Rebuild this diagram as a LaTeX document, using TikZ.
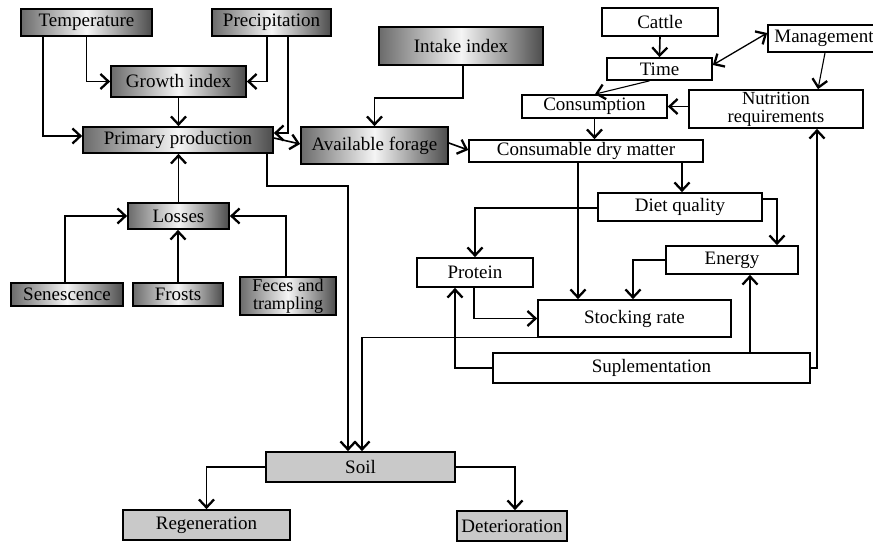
\documentclass[tikz,border=0pt]{standalone}
\usepackage{fontspec}
\setmainfont{Liberation Serif}
\usetikzlibrary{arrows.meta}
\newcommand\fsz{\fontsize{19}{19}\selectfont}
\begin{document}
\begin{tikzpicture}[x=1pt,y=-1pt,
  base/.style={draw=black, line width=1.7pt, inner sep=0pt, align=center, font=\fsz},
  grad/.style={base, left color=black!58, right color=black!70, middle color=black!4},
  plain/.style={base, fill=white},
  soilbox/.style={base, fill=black!21},
  tip/.tip={Straight Barb[length=8pt,width=15pt,line width=2.3pt]},
  conn/.style={line width=1.6pt, -tip},
  thinconn/.style={conn, line width=1.1pt},
  dconn/.style={line width=1.3pt, tip-tip}
]
\useasboundingbox (0,0) rectangle (873,553);
\fill[white] (0,0) rectangle (873,553);

% shaded (plant) boxes
\node[grad, minimum width=131pt, minimum height=27pt] (temp) at (86.5,22.5) {Temperature};
\node[grad, minimum width=119pt, minimum height=27pt] (prec) at (271.5,22.5) {Precipitation};
\node[grad, minimum width=135pt, minimum height=31pt] (gi) at (178.5,81.5) {Growth index};
\node[grad, minimum width=190pt, minimum height=26pt] (pp) at (178,140) {Primary production};
\node[grad, minimum width=147pt, minimum height=37pt] (af) at (374.5,145.5) {Available forage};
\node[grad, minimum width=164pt, minimum height=38pt] (intake) at (461,46) {Intake index};
\node[grad, minimum width=101pt, minimum height=26pt] (loss) at (178.5,216) {Losses};
\node[grad, minimum width=112pt, minimum height=23pt] (sen) at (67,294.5) {Senescence};
\node[grad, minimum width=90pt, minimum height=23pt] (frost) at (178,294.5) {Frosts};
\node[grad, minimum width=96pt, minimum height=38pt, font=\fontsize{18}{17.5}\selectfont] (fec) at (288,296) {Feces and\\trampling};

% animal boxes
\node[plain, minimum width=234pt, minimum height=22pt] (cdm) at (586,151) {Consumable dry matter};
\node[plain, minimum width=116pt, minimum height=28pt] (cattle) at (660,22) {Cattle};
\node[plain, minimum width=105pt, minimum height=22pt] (time) at (659.5,69) {Time};
\node[plain, minimum width=112pt, minimum height=27pt] (mgmt) at (824,38.5) {Management};
\node[plain, minimum width=145pt, minimum height=23pt] (cons) at (594.5,106.5) {Consumption};
\node[plain, minimum width=174pt, minimum height=38pt, font=\fontsize{18.5}{18}\selectfont] (nut) at (776,109) {Nutrition\\requirements};
\node[plain, minimum width=164pt, minimum height=28pt] (dq) at (680,207) {Diet quality};
\node[plain, minimum width=132pt, minimum height=28pt] (en) at (732,260) {Energy};
\node[plain, minimum width=116pt, minimum height=29pt] (prot) at (475,272.5) {Protein};
\node[plain, minimum width=193pt, minimum height=37pt] (sr) at (634.5,318.5) {Stocking rate};
\node[plain, minimum width=317pt, minimum height=30pt] (sup) at (651.5,368) {Suplementation};

% soil boxes
\node[soilbox, minimum width=189pt, minimum height=30pt] (soil) at (360.5,467) {Soil};
\node[soilbox, minimum width=167pt, minimum height=30pt] (regen) at (206.5,525) {Regeneration};
\node[soilbox, minimum width=110pt, minimum height=30pt] (det) at (512,526) {Deterioration};

% connectors: plant side
\draw[conn] (temp.south) |- (gi.west);
\draw[conn] ([xshift=-43.5pt]temp.south) |- ([yshift=4pt]pp.west);
\draw[conn] ([xshift=-4.5pt]prec.south) |- (gi.east);
\draw[thinconn] ([xshift=16.5pt]prec.south) |- ([yshift=7pt]pp.east);
\draw[conn] ([yshift=2pt]pp.east) -- ([yshift=1.5pt]af.west);
\draw[conn] (gi.south) -- (gi.south |- pp.north);
\draw[conn] (loss.north) -- (loss.north |- pp.south);
\draw[conn] ([xshift=-2pt]sen.north) |- (loss.west);
\draw[conn] (frost.north) -- (frost.north |- loss.south);
\draw[conn] ([xshift=-2pt]fec.north) |- (loss.east);
\draw[conn] ([xshift=2pt]intake.south) -- ++(0,32) -| (af.north);
\draw[conn] ([yshift=2.5pt]af.east) -- ([yshift=1pt]cdm.west);
\draw[conn] ([xshift=89pt]pp.south) -- ++(0,32) -| ([xshift=-12.5pt]soil.north);

% connectors: animal side
\draw[conn] (cattle.south) -- (time.north);
\draw[dconn] ([yshift=4pt]time.east) -- ([yshift=5.5pt]mgmt.west);
\draw[thinconn] ([xshift=-10pt]time.south) -- ([xshift=0.5pt]cons.north);
\draw[thinconn] ([xshift=1pt]mgmt.south) -- ([xshift=42pt]nut.north);
\draw[conn] (nut.west |- cons.east) -- (cons.east);
\draw[conn] (cons.south) -- (cons.south |- cdm.north);
\draw[conn] (sup.east) -| ([xshift=41pt]nut.south);
\draw[conn] ([xshift=96pt]cdm.south) -- ([xshift=2pt]dq.north);
\draw[conn] ([xshift=-8pt]cdm.south) -- ([xshift=-56.5pt]sr.north);
\draw[conn] ([yshift=-1pt]dq.west) -| (prot.north);
\draw[conn] ([yshift=8pt]dq.east) -| ([xshift=45pt]en.north);
\draw[conn] (en.west) -| ([xshift=-1.5pt]sr.north);
\draw[thinconn] ([xshift=-1pt]prot.south) |- (sr.west);
\draw[thinconn] (sup.west) -| ([xshift=-20pt]prot.south);
\draw[conn] ([xshift=98.5pt]sup.north) -- ([xshift=18pt]en.south);
\draw[thinconn] (sr.south west) -| ([xshift=1.5pt]soil.north);

% connectors: soil
\draw[conn] (soil.west) -| (regen.north);
\draw[conn] (soil.east) -| ([xshift=3pt]det.north);
\end{tikzpicture}
\end{document}
